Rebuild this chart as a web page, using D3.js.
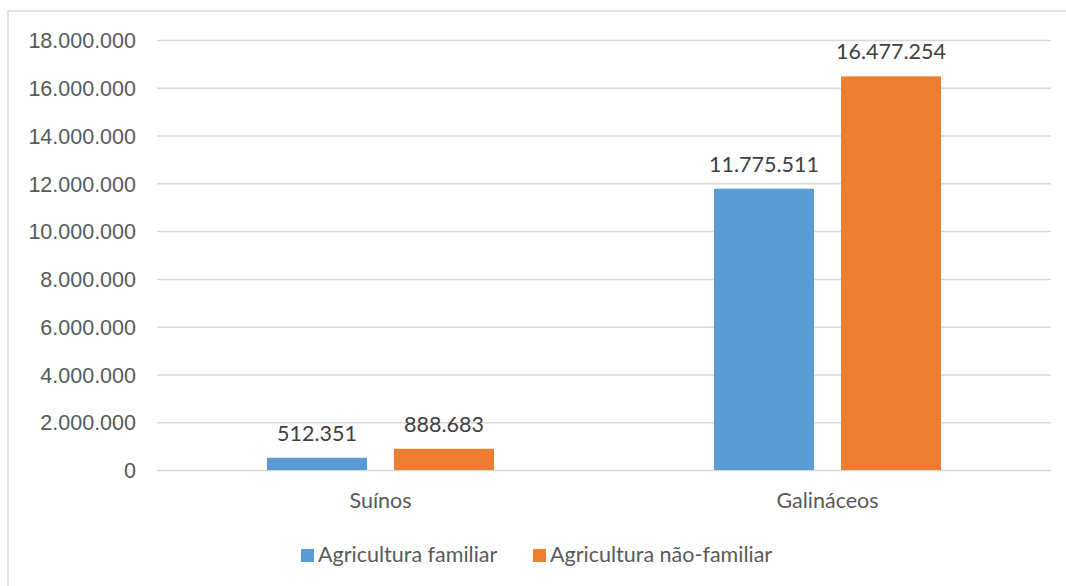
<!DOCTYPE html>
<html>
<head>
<meta charset="utf-8">
<script src="https://cdn.jsdelivr.net/npm/d3@7"></script>
<style>
  html, body { margin: 0; padding: 0; background: #fff; }
  svg { display: block; font-family: Lato, "Liberation Sans", sans-serif; }
</style>
</head>
<body>
<div id="chart"></div>
<script>
// Data
const categories = ['Suínos', 'Galináceos'];
const series = ['Agricultura familiar', 'Agricultura não-familiar'];
const familiar = [512351, 11775511];
const naoFamiliar = [888683, 16477254];
const yMax = 18000000;
const yStep = 2000000;

const COLORS = { familiar: '#5B9BD5', naoFamiliar: '#ED7D31', grid: '#D9D9D9', text: '#595959', label: '#404040' };
const FS = 21.5;

const W = 1066, H = 586;
const plot = { left: 157, right: 1051, top: 40, bottom: 470 };

const locale = d3.formatLocale({ decimal: ',', thousands: '.', grouping: [3], currency: ['', ''] });
const fmt = locale.format(',d');

const svg = d3.select('#chart').append('svg')
  .attr('width', W).attr('height', H);

// outer chart border (Excel frame, runs off the right/bottom)
svg.append('rect')
  .attr('x', 8).attr('y', 11)
  .attr('width', W + 20).attr('height', H + 20)
  .attr('fill', 'none').attr('stroke', COLORS.grid).attr('stroke-width', 1.5);

const y = d3.scaleLinear().domain([0, yMax]).range([plot.bottom, plot.top]);
const x0 = d3.scaleBand().domain(categories).range([plot.left, plot.right]);
const groupW = 227;
const x1 = d3.scaleBand().domain(series).range([0, groupW]).paddingInner(27 / 127);

// gridlines + tick labels
const yAxis = svg.append('g')
  .attr('transform', `translate(${plot.left},0)`)
  .call(d3.axisLeft(y)
    .tickValues(d3.range(0, yMax + 1, yStep))
    .tickSize(-(plot.right - plot.left))
    .tickPadding(21)
    .tickFormat(fmt));
yAxis.select('.domain').remove();
yAxis.selectAll('.tick line').attr('stroke', COLORS.grid).attr('stroke-width', 1.5);
yAxis.selectAll('.tick text')
  .attr('fill', COLORS.text).attr('font-size', FS).attr('font-family', null).attr('dy', '0.36em');

const rows = series.map((s, i) => ({
  key: s,
  color: i === 0 ? COLORS.familiar : COLORS.naoFamiliar,
  values: i === 0 ? familiar : naoFamiliar
}));

const groups = svg.append('g').selectAll('g')
  .data(categories)
  .join('g')
  .attr('transform', d => `translate(${x0(d) + (x0.bandwidth() - groupW) / 2},0)`);

groups.selectAll('rect')
  .data((c, ci) => rows.map(r => ({ key: r.key, color: r.color, v: r.values[ci] })))
  .join('rect')
  .attr('x', d => x1(d.key))
  .attr('y', d => y(d.v))
  .attr('width', x1.bandwidth())
  .attr('height', d => y(0) - y(d.v))
  .attr('fill', d => d.color);

groups.selectAll('text.val')
  .data((c, ci) => rows.map(r => ({ key: r.key, v: r.values[ci] })))
  .join('text')
  .attr('class', 'val')
  .attr('x', d => x1(d.key) + x1.bandwidth() / 2)
  .attr('y', d => y(d.v) - 17)
  .attr('text-anchor', 'middle')
  .attr('fill', COLORS.label)
  .attr('font-size', FS)
  .text(d => fmt(d.v));

// category labels
svg.append('g').selectAll('text')
  .data(categories)
  .join('text')
  .attr('x', d => x0(d) + x0.bandwidth() / 2)
  .attr('y', 508)
  .attr('text-anchor', 'middle')
  .attr('fill', COLORS.text)
  .attr('font-size', FS)
  .text(d => d);

// legend
const legend = svg.append('g').attr('transform', 'translate(301,549)');
const legX = [0, 232];
const items = legend.selectAll('g')
  .data(rows)
  .join('g')
  .attr('transform', (d, i) => `translate(${legX[i]},0)`);
items.append('rect')
  .attr('width', 13).attr('height', 13)
  .attr('fill', d => d.color);
items.append('text')
  .attr('x', 17).attr('y', 13)
  .attr('fill', COLORS.text)
  .attr('font-size', FS)
  .text(d => d.key);
</script>
</body>
</html>
